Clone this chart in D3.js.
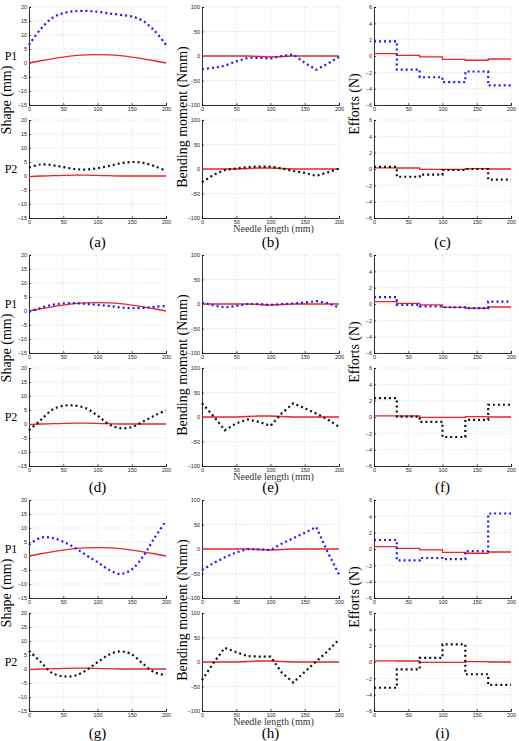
<!DOCTYPE html>
<html>
<head>
<meta charset="utf-8">
<script src="https://cdnjs.cloudflare.com/ajax/libs/d3/7.8.5/d3.min.js"></script>
<style>
  body { margin: 0; background: #fff; }
  svg { display: block; }
  .serif { font-family: "Liberation Serif", "Times New Roman", serif; }
</style>
</head>
<body>
<div class="svg-container"></div>
<script>
var width = 519;
var height = 741;

// sample positions along the needle (mm) and the six segment edges for efforts
var needleX = [0, 16.7, 33.3, 50, 66.7, 83.3, 100, 116.7, 133.3, 150, 166.7, 183.3, 200];
var segEdges = [0, 33.3, 66.7, 100, 133.3, 166.7, 200];
var xTicks = [0, 50, 100, 150, 200];
var shapeTicks = [-15, -10, -5, 0, 5, 10, 15, 20];
var momentTicks = [-100, -50, 0, 50, 100];
var effortTicks = [-6, -4, -2, 0, 2, 4, 6];
var caseTags = [["(a)", "(b)", "(c)"], ["(d)", "(e)", "(f)"], ["(g)", "(h)", "(i)"]];

// red reference curves
var shapeRefP1 = [0, 0.8, 1.5, 2.1, 2.6, 2.9, 3.0, 2.9, 2.6, 2.1, 1.5, 0.8, 0];
var shapeRefP2 = [-0.2, 0, 0.1, 0.2, 0.3, 0.3, 0.2, 0.1, 0, 0, 0, 0, 0];
var momentRefP1 = [0, 0, 0, 0, 0, -1, -2, -1, 0, 0, 0, 0, 0];
var momentRefP2 = [0, 0, 0, 0, 1, 2, 2, 1, 0, 0, 0, 0, 0];
var effortRefP1 = [0.3, 0.08, -0.1, -0.42, -0.52, -0.37];
var effortRefP2 = [0.15, 0.12, -0.05, -0.05, 0.05, 0];

// case 1 (a)(b)(c)
var shapeA1 = [6.5, 12, 16, 17.8, 18.5, 18.6, 18.3, 17.7, 17.2, 16.6, 15, 11.5, 6.5];
var shapeA2 = [3, 4.1, 3.9, 3.2, 2.5, 2.3, 2.8, 3.6, 4.5, 5, 4.7, 3.5, 1.8];
var momentB1 = [-27, -24, -20, -11, -4, -4, -5, 0, 3, -14, -28, -16, -2];
var momentB2 = [-27, -12, -2, 1, 4, 5, 5, 1, -4, -8, -14, -7, 1];
var effortC1 = [1.8, -1.67, -2.6, -3.2, -1.9, -3.6];
var effortC2 = [0.25, -0.95, -0.7, -0.12, 0, -1.3];

// case 2 (d)(e)(f)
var shapeD1 = [-0.3, 1.1, 2.2, 2.7, 2.8, 2.5, 2.2, 1.8, 1.3, 1.0, 1.1, 1.5, 1.8];
var shapeD2 = [-2.2, 1.3, 5.0, 6.5, 6.6, 5.6, 3.0, -0.1, -1.5, -1.1, 0.9, 3.0, 4.9];
var momentE1 = [3, -3, -7, -4, 0, 0, -2, 0, 1, 3, 6, 2, -7];
var momentE2 = [28, 2, -27, -13, -5, -10, -18, 8, 28, 18, 7, -5, -20];
var effortF1 = [0.85, -0.1, -0.3, -0.4, -0.5, 0.3];
var effortF2 = [2.3, 0.05, -0.6, -2.45, -0.35, 1.5];

// case 3 (g)(h)(i)
var shapeG1 = [4, 6.5, 6.5, 5.1, 3, 0.3, -2.2, -4.9, -6.4, -4.8, -0.1, 6.5, 12.5];
var shapeG2 = [6.5, 2.6, -1.4, -2.6, -2.4, -0.5, 2.4, 5.1, 6.3, 5.2, 1.8, -1.2, -2.2];
var momentH1 = [-43, -29, -17, -7, 0, -1, -2, 11, 22, 33, 45, -6, -52];
var momentH2 = [-37, -2, 29, 20, 12, 11, 11, -22, -42, -20, 1, 22, 46];
var effortI1 = [1.1, -1.4, -1.1, -1.25, -0.25, 4.35];
var effortI2 = [-3.15, -0.9, 0.5, 2.15, -1.5, -2.8];

var shapeCases = [[shapeA1, shapeA2], [shapeD1, shapeD2], [shapeG1, shapeG2]];
var momentCases = [[momentB1, momentB2], [momentE1, momentE2], [momentH1, momentH2]];
var effortCases = [[effortC1, effortC2], [effortF1, effortF2], [effortI1, effortI2]];

var groupTop = [7, 255, 500];
var tagY = [244, 489, 735];
var colLeft = [29, 202, 374];
var plotW = 137, plotH = 98, p2Offset = 113;
var dotColor = ["#1a1aff", "#111111"];
var red = "#e8262b";

var svg = d3.select(".svg-container").append("svg")
            .attr("width", width)
            .attr("height", height);

function drawPanel(x0, y0, yDomain, yTicks, refVals, vals, color, step) {
  var x = d3.scaleLinear().domain([0, 200]).range([x0, x0 + plotW]);
  var y = d3.scaleLinear().domain(yDomain).range([y0 + plotH, y0]);
  var g = svg.append("g");

  // dotted grid
  g.selectAll(".gx").data(xTicks).enter().append("line")
   .attr("x1", function(d) { return x(d); }).attr("x2", function(d) { return x(d); })
   .attr("y1", y0).attr("y2", y0 + plotH)
   .attr("stroke", "#c8c8c8").attr("stroke-width", 0.6).attr("stroke-dasharray", "1,1.5");
  g.selectAll(".gy").data(yTicks).enter().append("line")
   .attr("y1", function(d) { return y(d); }).attr("y2", function(d) { return y(d); })
   .attr("x1", x0).attr("x2", x0 + plotW)
   .attr("stroke", "#c8c8c8").attr("stroke-width", 0.6).attr("stroke-dasharray", "1,1.5");

  var xAxis = g.append("g").attr("transform", "translate(0," + (y0 + plotH) + ")")
               .call(d3.axisBottom(x).tickValues(xTicks).tickSize(-2).tickPadding(2));
  var yAxis = g.append("g").attr("transform", "translate(" + x0 + ",0)")
               .call(d3.axisLeft(y).tickValues(yTicks).tickSize(-2).tickPadding(2));
  [xAxis, yAxis].forEach(function(a) {
    a.select(".domain").attr("stroke", "#000").attr("stroke-width", 0.8);
    a.selectAll(".tick line").attr("stroke", "#000").attr("stroke-width", 0.6);
    a.selectAll("text").attr("font-family", "Liberation Sans").attr("font-size", 5.5).attr("fill", "#222");
  });

  var line = d3.line().x(function(d) { return x(d[0]); }).y(function(d) { return y(d[1]); });
  function pts(v) {
    if (step) {
      return segEdges.map(function(e, i) { return [e, v[Math.min(i, v.length - 1)]]; });
    }
    return needleX.map(function(e, i) { return [e, v[i]]; });
  }
  if (step) line.curve(d3.curveStepAfter);
  else if (yDomain[1] == 20) line.curve(d3.curveCatmullRom);

  g.append("path").attr("d", line(pts(refVals)))
   .attr("fill", "none").attr("stroke", red).attr("stroke-width", 1.3);
  g.append("path").attr("d", line(pts(vals)))
   .attr("fill", "none").attr("stroke", color).attr("stroke-width", 2.2)
   .attr("stroke-dasharray", "2,3");
}

for (var c = 0; c < 3; c++) {
  for (var r = 0; r < 2; r++) {
    var panelTop = groupTop[c] + r * p2Offset;
    drawPanel(colLeft[0], panelTop, [-15, 20], shapeTicks,
              r == 0 ? shapeRefP1 : shapeRefP2, shapeCases[c][r], dotColor[r], false);
    drawPanel(colLeft[1], panelTop, [-100, 100], momentTicks,
              r == 0 ? momentRefP1 : momentRefP2, momentCases[c][r], dotColor[r], false);
    drawPanel(colLeft[2], panelTop, [-6, 6], effortTicks,
              r == 0 ? effortRefP1 : effortRefP2, effortCases[c][r], dotColor[r], true);
    svg.append("text").attr("class", "serif").attr("x", 11).attr("y", panelTop + 50)
       .attr("text-anchor", "middle").attr("dominant-baseline", "middle")
       .attr("font-size", 12).text(r == 0 ? "P1" : "P2");
  }
  var yLabels = [["Shape (mm)", 8, 93], ["Bending moment (Nmm)", 184, 110], ["Efforts (N)", 356, 97]];
  yLabels.forEach(function(l) {
    svg.append("text").attr("class", "serif")
       .attr("transform", "translate(" + l[1] + "," + (groupTop[c] + l[2]) + ") rotate(-90)")
       .attr("text-anchor", "middle").attr("dominant-baseline", "middle")
       .attr("font-size", 14).text(l[0]);
  });
  svg.append("text").attr("class", "serif")
     .attr("x", colLeft[1] + plotW / 2 + 3).attr("y", groupTop[c] + p2Offset + plotH + 12)
     .attr("text-anchor", "middle").attr("dominant-baseline", "middle")
     .attr("font-size", 10).attr("fill", "#333").text("Needle length (mm)");
  for (var k = 0; k < 3; k++) {
    svg.append("text").attr("class", "serif").attr("x", colLeft[k] + plotW / 2).attr("y", tagY[c])
       .attr("text-anchor", "middle").attr("dominant-baseline", "middle")
       .attr("font-size", 15).text(caseTags[c][k]);
  }
}
</script>
</body>
</html>
